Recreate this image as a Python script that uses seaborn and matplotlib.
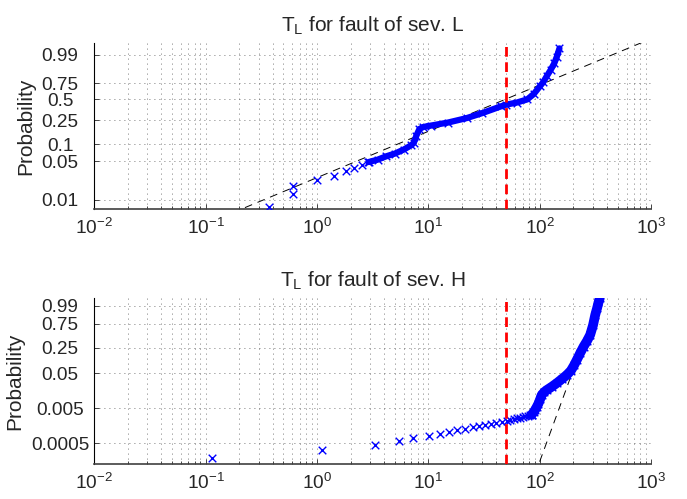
import numpy as np
import matplotlib
matplotlib.use("Agg")
import matplotlib.pyplot as plt
import seaborn as sns
from matplotlib.ticker import LogLocator, NullLocator

# ---------------- data ----------------
threshold_t = 50

# fault of severity L
l_sparse_t = [0.37, 0.61, 0.61, 1.0, 1.42, 1.82, 2.17, 2.55, 2.85]
l_sparse_p = [0.0075, 0.0125, 0.0175, 0.0225, 0.0275, 0.0325, 0.0375, 0.0425, 0.0475]
l_band_t = [2.9, 3.5, 4.2, 5.0, 6.0, 7.0, 7.4, 7.8, 8.3, 9.0, 10.5, 15, 22, 30, 45,
            50, 62, 77, 88, 100, 107, 115, 125, 135, 142, 150]
l_band_p = [0.048, 0.053, 0.061, 0.068, 0.080, 0.095, 0.105, 0.14, 0.18, 0.195, 0.205,
            0.23, 0.27, 0.32, 0.405, 0.427, 0.455, 0.50, 0.58, 0.70, 0.76, 0.84, 0.91,
            0.96, 0.985, 0.9975]
l_fit = (75.0, 0.85)  # weibull scale, shape of the reference line
l_ylim = (0.00665, 0.99947)
l_yticks = [0.01, 0.05, 0.1, 0.25, 0.5, 0.75, 0.99]
l_yticklabels = ["0.01", "0.05", "0.1", "0.25", "0.5", "0.75", "0.99"]

# fault of severity H
h_sparse_t = [0.114, 1.1, 3.3, 5.5, 7.2, 10.2, 12.7, 15.3, 18.1, 21.5, 25, 28.7, 32.5,
              36.2, 40.5, 45.7, 50.5, 54.5, 58.5, 62.9, 67, 70.5, 74, 77.5, 81, 84.5]
h_sparse_p = [1.9e-4, 3.1e-4, 4.4e-4, 5.6e-4, 6.9e-4, 8.1e-4, 9.4e-4, 1.06e-3, 1.19e-3,
              1.31e-3, 1.44e-3, 1.56e-3, 1.69e-3, 1.81e-3, 1.94e-3, 2.06e-3, 2.19e-3,
              2.31e-3, 2.44e-3, 2.56e-3, 2.69e-3, 2.81e-3, 2.94e-3, 3.06e-3, 3.19e-3, 3.31e-3]
h_band_t = [84.5, 88, 91, 94, 97, 101, 104, 110, 116, 128, 142, 158, 175, 190, 203,
            215, 230, 247, 265, 283, 300, 314, 326, 336, 345]
h_band_p = [3.3e-3, 3.9e-3, 4.6e-3, 5.6e-3, 6.8e-3, 9.5e-3, 0.0123, 0.015, 0.0171,
            0.021, 0.0267, 0.035, 0.0458, 0.060, 0.085, 0.12, 0.18, 0.265, 0.36, 0.49,
            0.72, 0.92, 0.98, 0.997, 0.9995]
h_fit = (272.0, 8.8)
h_ylim = (1.234e-4, 0.999666)
h_yticks = [0.0005, 0.005, 0.05, 0.25, 0.75, 0.99]
h_yticklabels = ["0.0005", "0.005", "0.05", "0.25", "0.75", "0.99"]

panels = [
    ("L", l_sparse_t, l_sparse_p, l_band_t, l_band_p, l_fit, l_ylim, l_yticks, l_yticklabels, 4.5, -0.106),
    ("H", h_sparse_t, h_sparse_p, h_band_t, h_band_p, h_fit, h_ylim, h_yticks, h_yticklabels, 7.0, -0.126),
]


# weibull probability paper: log(-log(1-p))
def weib_fwd(p):
    p = np.clip(np.asarray(p, dtype=float), 1e-300, 1 - 1e-16)
    return np.log(-np.log1p(-p))


def weib_inv(w):
    return -np.expm1(-np.exp(np.asarray(w, dtype=float)))


sns.set_style("white")
plt.rcParams["font.family"] = ["Liberation Sans", "DejaVu Sans"]
plt.rcParams["mathtext.fontset"] = "custom"
plt.rcParams["mathtext.rm"] = "Liberation Sans"
plt.rcParams["mathtext.it"] = "Liberation Sans"
plt.rcParams["mathtext.default"] = "regular"
plt.rcParams["axes.unicode_minus"] = False

fig, axes = plt.subplots(2, 1, figsize=(6.87, 4.99), dpi=100)
fig.subplots_adjust(left=0.137, right=0.948, top=0.914, bottom=0.070, hspace=0.53)

grid_kw = dict(color="0.3", linewidth=0.6, linestyle=(0, (1, 5)))

for ax, (sev, sp_t, sp_p, bd_t, bd_p, fit, ylim, yticks, ylabels, band_lw, ylab_x) in zip(axes, panels):
    ax.set_xscale("log")
    ax.set_yscale("function", functions=(weib_fwd, weib_inv))

    # fitted weibull reference line (straight on this paper)
    scale, shape = fit
    fit_t = np.array([0.01, 1000.0]) if shape < 2 else np.array([50.0, 380.0])
    fit_p = -np.expm1(-(fit_t / scale) ** shape)
    ax.plot(fit_t, fit_p, color="black", lw=0.7, ls=(0, (8, 6)), zorder=2)

    # dense part: markers overlap into a band
    sns.lineplot(x=bd_t, y=bd_p, sort=False, estimator=None, color="blue",
                 lw=band_lw, ax=ax, zorder=3)
    sns.scatterplot(x=bd_t, y=bd_p, marker="x", color="blue", s=30, linewidth=1.0,
                    ax=ax, zorder=4)
    sns.scatterplot(x=sp_t, y=sp_p, marker="x", color="blue", s=30, linewidth=1.0,
                    ax=ax, zorder=4)

    ax.axvline(threshold_t, color="red", lw=2.0, ls=(0, (3.5, 2)), zorder=5)

    ax.set_xlim(0.01, 1000)
    ax.set_ylim(*ylim)
    ax.set_yticks(yticks, labels=ylabels)
    ax.yaxis.set_minor_locator(NullLocator())
    ax.xaxis.set_major_locator(LogLocator(base=10, numticks=10))
    ax.xaxis.set_minor_locator(LogLocator(base=10, subs=np.arange(2, 10), numticks=10))

    ax.grid(True, which="both", axis="x", **grid_kw)
    ax.grid(True, which="major", axis="y", **grid_kw)
    ax.set_axisbelow(True)

    for side in ["top", "right"]:
        ax.spines[side].set_visible(False)
    ax.spines["left"].set_color("black")
    ax.spines["left"].set_linewidth(0.8)
    ax.spines["bottom"].set_color("0.25")
    ax.spines["bottom"].set_linewidth(1.2)

    ax.tick_params(axis="both", which="both", direction="in", labelsize=13.7,
                   top=False, right=False, left=True, bottom=True, width=0.6)
    ax.tick_params(axis="both", which="major", length=3.6)
    ax.tick_params(axis="x", which="minor", length=2.2)
    ax.tick_params(axis="y", pad=24.5)
    ax.tick_params(axis="x", pad=6)
    for lab in ax.get_yticklabels():
        lab.set_horizontalalignment("center")

    ax.set_xlabel("")
    ax.set_ylabel("Probability", fontsize=15)
    ax.yaxis.set_label_coords(ylab_x, 0.5)
    ax.set_title(f"T$_L$ for fault of sev. {sev}", fontsize=15, pad=8)

fig.savefig("out.png", dpi=100)
